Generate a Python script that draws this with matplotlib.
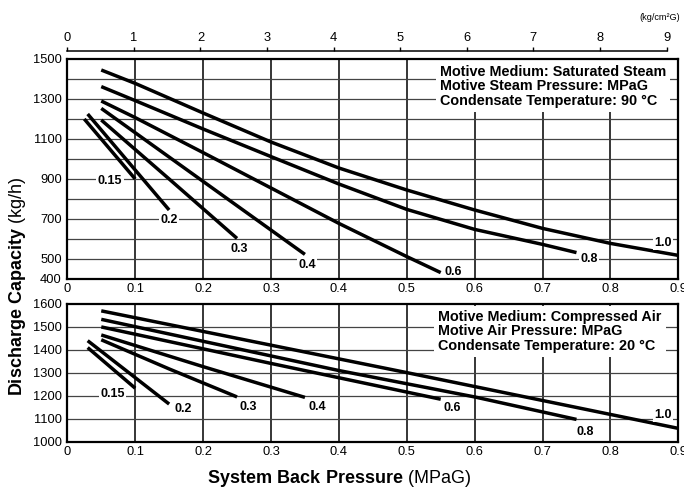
"""
Discharge capacity vs. system back pressure, steam (top) and compressed air (bottom).
"""
import numpy as np
import matplotlib
matplotlib.use("Agg")
import matplotlib.pyplot as plt

plt.rcParams["font.family"] = ["Liberation Sans", "DejaVu Sans"]
plt.rcParams["mathtext.fontset"] = "custom"
plt.rcParams["mathtext.bf"] = "Liberation Sans:bold"
plt.rcParams["mathtext.rm"] = "Liberation Sans"

OUTPUT_PATH = "out.png"
KGF_TO_MPA = 0.0980665

# --- data: saturated steam, curves keyed by motive pressure (MPaG) ---
steam_pressures = ["0.15", "0.2", "0.3", "0.4", "0.6", "0.8", "1.0"]
steam_back = [
    [0.025, 0.1],
    [0.03, 0.09, 0.15],
    [0.05, 0.15, 0.25],
    [0.05, 0.2, 0.35],
    [0.05, 0.1, 0.2, 0.3, 0.4, 0.5, 0.55],
    [0.05, 0.1, 0.2, 0.3, 0.4, 0.5, 0.6, 0.7, 0.75],
    [0.05, 0.1, 0.2, 0.3, 0.4, 0.5, 0.6, 0.7, 0.8, 0.9],
]
steam_capacity = [
    [1200, 900],
    [1225, 985, 745],
    [1195, 900, 603],
    [1253, 888, 523],
    [1290, 1207, 1032, 855, 678, 512, 432],
    [1362, 1292, 1150, 1012, 875, 748, 648, 573, 532],
    [1445, 1378, 1230, 1085, 955, 845, 745, 653, 578, 518],
]

# --- data: compressed air ---
air_pressures = ["0.15", "0.2", "0.3", "0.4", "0.6", "0.8", "1.0"]
air_back = [
    [0.03, 0.1],
    [0.03, 0.15],
    [0.05, 0.15, 0.25],
    [0.05, 0.2, 0.35],
    [0.05, 0.3, 0.55],
    [0.05, 0.4, 0.6, 0.75],
    [0.05, 0.5, 0.9],
]
air_capacity = [
    [1410, 1233],
    [1440, 1164],
    [1444, 1317, 1195],
    [1465, 1327, 1193],
    [1500, 1341, 1185],
    [1533, 1310, 1195, 1097],
    [1570, 1301, 1058],
]

steam_yticks = list(range(400, 1501, 100))
steam_yticklabels = ["400", "500", "", "700", "", "900", "", "1100", "", "1300", "", "1500"]
air_yticks = list(range(1000, 1601, 100))
air_yticklabels = [str(v) for v in air_yticks]
xticks = [0, 0.1, 0.2, 0.3, 0.4, 0.5, 0.6, 0.7, 0.8, 0.9]
xticklabels = ["0", "0.1", "0.2", "0.3", "0.4", "0.5", "0.6", "0.7", "0.8", "0.9"]
kgf_ticks = list(range(0, 10))

steam_note = ("Motive Medium: Saturated Steam\n"
              "Motive Steam Pressure: MPaG\n"
              "Condensate Temperature: 90 °C")
air_note = ("Motive Medium: Compressed Air\n"
            "Motive Air Pressure: MPaG\n"
            "Condensate Temperature: 20 °C")

# label anchor points (layout only)
steam_label_xy = [(0.063, 890), (0.150, 695), (0.254, 550), (0.353, 470),
                  (0.569, 435), (0.768, 500), (0.877, 580)]
air_label_xy = [(0.067, 1208), (0.170, 1142), (0.266, 1151), (0.368, 1151),
                (0.567, 1147), (0.763, 1042), (0.877, 1116)]


def style_panel(ax, yticks, yticklabels, ylim):
    ax.set_xlim(0, 0.9)
    ax.set_ylim(*ylim)
    ax.set_xticks(xticks)
    ax.set_xticklabels(xticklabels)
    ax.set_yticks(yticks)
    ax.set_yticklabels(yticklabels)
    ax.tick_params(length=0, labelsize=9.3, pad=4)
    ax.tick_params(axis="x", pad=3)
    for x in xticks[1:]:
        ax.axvline(x, color="black", lw=1.1, zorder=1)
    for y in yticks[1:-1]:
        ax.axhline(y, color="#444444", lw=0.9, zorder=1)
    for sp in ax.spines.values():
        sp.set_linewidth(1.6)
        sp.set_zorder(5)


def draw_curves(ax, xs, ys, names, label_xy):
    for x, y in zip(xs, ys):
        ax.plot(x, y, color="black", lw=2.5, solid_capstyle="butt", zorder=3)
    for name, (lx, ly) in zip(names, label_xy):
        ax.text(lx, ly, name, fontsize=9, fontweight="bold", ha="center", va="center",
                zorder=4, bbox=dict(facecolor="white", edgecolor="none", pad=1.0))


def main():
    fig = plt.figure(figsize=(6.84, 4.88), dpi=100)
    ax_top = fig.add_axes([0.0984, 0.4283, 0.8933, 0.4508])
    ax_bot = fig.add_axes([0.0984, 0.0949, 0.8933, 0.2822])

    style_panel(ax_top, steam_yticks, steam_yticklabels, (400, 1500))
    style_panel(ax_bot, air_yticks, air_yticklabels, (1000, 1600))

    draw_curves(ax_top, steam_back, steam_capacity, steam_pressures, steam_label_xy)
    draw_curves(ax_bot, air_back, air_capacity, air_pressures, air_label_xy)

    box = dict(facecolor="white", edgecolor="none", pad=3)
    ax_top.text(0.549, 1472, steam_note, fontsize=10.4, fontweight="bold",
                ha="left", va="top", linespacing=1.05, zorder=4, bbox=box)
    ax_bot.text(0.546, 1575, air_note, fontsize=10.4, fontweight="bold",
                ha="left", va="top", linespacing=1.05, zorder=4, bbox=box)

    # kg/cm2G scale above the top panel
    ax_kg = ax_top.twiny()
    ax_kg.set_xlim(0, 0.9)
    ax_kg.set_xticks([k * KGF_TO_MPA for k in kgf_ticks])
    ax_kg.set_xticklabels([str(k) for k in kgf_ticks])
    for side in ("left", "right", "bottom"):
        ax_kg.spines[side].set_visible(False)
    ax_kg.spines["top"].set_position(("outward", 5.8))
    ax_kg.spines["top"].set_bounds(0, 9 * KGF_TO_MPA)
    ax_kg.spines["top"].set_linewidth(1.1)
    ax_kg.tick_params(axis="x", direction="out", length=3, width=1, labelsize=9.3, pad=2)
    fig.text(0.994, 0.965, "(kg/cm²G)", fontsize=6.6, ha="right", va="center")

    fig.text(0.025, 0.414, r"$\mathbf{Discharge\ Capacity}$ (kg/h)", fontsize=13,
             rotation=90, ha="center", va="center")
    fig.text(0.496, 0.02, r"$\mathbf{System\ Back\ Pressure}$ (MPaG)", fontsize=13,
             ha="center", va="center")

    fig.savefig(OUTPUT_PATH, dpi=100)


if __name__ == "__main__":
    main()
